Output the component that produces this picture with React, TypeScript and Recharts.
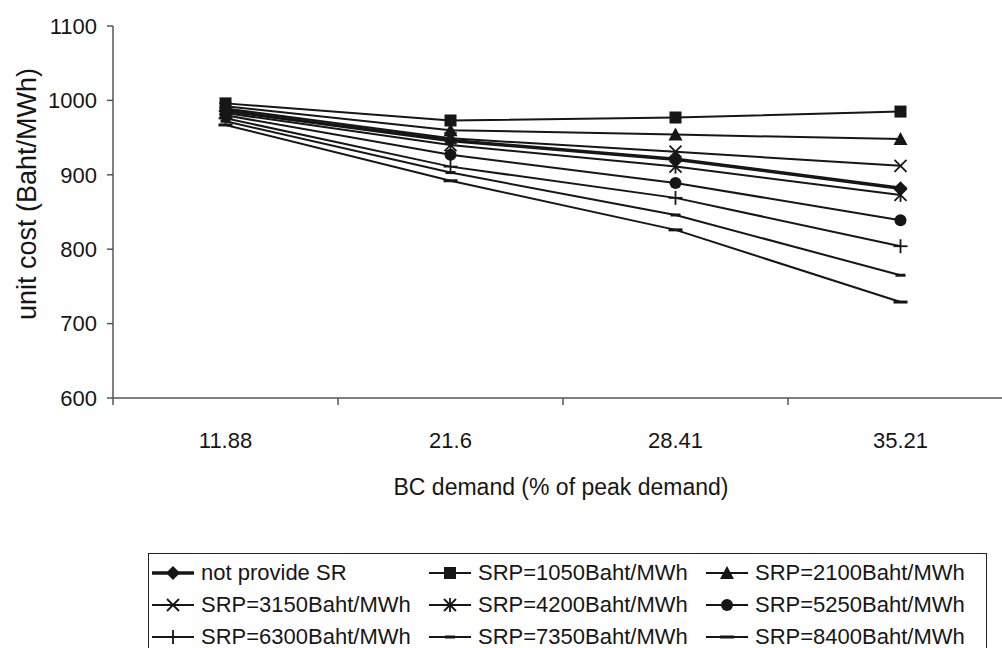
import React from 'react';
import { LineChart, Line, XAxis, YAxis, Label } from 'recharts';

const categories = ['11.88', '21.6', '28.41', '35.21'];
const xPositions = [0.5, 1.5, 2.5, 3.5];
const xTicks = [0, 0.5, 1, 1.5, 2, 2.5, 3, 3.5, 4];
const yTicks = [600, 700, 800, 900, 1000, 1100];

const notProvide = [986, 946, 921, 882];
const srp1050 = [996, 973, 977, 985];
const srp2100 = [992, 960, 954, 948];
const srp3150 = [989, 949, 931, 912];
const srp4200 = [983, 940, 911, 873];
const srp5250 = [980, 927, 889, 839];
const srp6300 = [976, 911, 869, 804];
const srp7350 = [972, 903, 846, 765];
const srp8400 = [967, 892, 826, 729];

const series = [
  { key: 'np', name: 'not provide SR', values: notProvide, shape: 'diamond', width: 3.5 },
  { key: 's1050', name: 'SRP=1050Baht/MWh', values: srp1050, shape: 'square', width: 2 },
  { key: 's2100', name: 'SRP=2100Baht/MWh', values: srp2100, shape: 'triangle', width: 2 },
  { key: 's3150', name: 'SRP=3150Baht/MWh', values: srp3150, shape: 'x', width: 2 },
  { key: 's4200', name: 'SRP=4200Baht/MWh', values: srp4200, shape: 'star', width: 2 },
  { key: 's5250', name: 'SRP=5250Baht/MWh', values: srp5250, shape: 'circle', width: 2 },
  { key: 's6300', name: 'SRP=6300Baht/MWh', values: srp6300, shape: 'plus', width: 2 },
  { key: 's7350', name: 'SRP=7350Baht/MWh', values: srp7350, shape: 'dash', width: 2 },
  { key: 's8400', name: 'SRP=8400Baht/MWh', values: srp8400, shape: 'longdash', width: 2 },
];

const data = xPositions.map((x, i) => {
  const row: any = { x };
  series.forEach((s) => { row[s.key] = s.values[i]; });
  return row;
});

const INK = '#161616';
const FONT = '"Liberation Sans", Arial, sans-serif';

const Marker = ({ shape, cx, cy }: { shape: string; cx: number; cy: number }) => {
  switch (shape) {
    case 'diamond':
      return <polygon points={`${cx},${cy - 7} ${cx + 7},${cy} ${cx},${cy + 7} ${cx - 7},${cy}`} fill={INK} />;
    case 'square':
      return <rect x={cx - 6} y={cy - 6} width={12} height={12} fill={INK} />;
    case 'triangle':
      return <polygon points={`${cx},${cy - 7} ${cx + 7},${cy + 6} ${cx - 7},${cy + 6}`} fill={INK} />;
    case 'x':
      return (
        <g stroke={INK} strokeWidth={1.8}>
          <line x1={cx - 6} y1={cy - 6} x2={cx + 6} y2={cy + 6} />
          <line x1={cx - 6} y1={cy + 6} x2={cx + 6} y2={cy - 6} />
        </g>
      );
    case 'star':
      return (
        <g stroke={INK} strokeWidth={1.8}>
          <line x1={cx - 6} y1={cy - 6} x2={cx + 6} y2={cy + 6} />
          <line x1={cx - 6} y1={cy + 6} x2={cx + 6} y2={cy - 6} />
          <line x1={cx} y1={cy - 7} x2={cx} y2={cy + 7} />
        </g>
      );
    case 'circle':
      return <circle cx={cx} cy={cy} r={6} fill={INK} />;
    case 'plus':
      return (
        <g stroke={INK} strokeWidth={1.8}>
          <line x1={cx - 7} y1={cy} x2={cx + 7} y2={cy} />
          <line x1={cx} y1={cy - 7} x2={cx} y2={cy + 7} />
        </g>
      );
    case 'dash':
      return <line x1={cx - 5} y1={cy} x2={cx + 5} y2={cy} stroke={INK} strokeWidth={3} />;
    case 'longdash':
      return <line x1={cx - 7} y1={cy} x2={cx + 7} y2={cy} stroke={INK} strokeWidth={3} />;
    default:
      return null;
  }
};

const makeDot = (shape: string) => (props: any) => {
  const { cx, cy, index } = props;
  if (cx == null || cy == null) return <g key={index} />;
  return <Marker key={index} shape={shape} cx={cx} cy={cy} />;
};

const XTick = (props: any) => {
  const { x, y, payload } = props;
  const v = payload.value;
  if (Number.isInteger(v)) {
    return <line x1={x} x2={x} y1={y} y2={y + 7} stroke="#555" strokeWidth={1.5} />;
  }
  const idx = xPositions.indexOf(v);
  return (
    <text x={x} y={y + 50} textAnchor="middle" fontSize={22} fill={INK} fontFamily={FONT}>
      {categories[idx]}
    </text>
  );
};

const LegendBox = () => (
  <div
    style={{
      position: 'absolute',
      left: 148,
      top: 553,
      border: '1.5px solid #222',
      width: 839,
      height: 110,
      boxSizing: 'border-box',
      paddingTop: 3,
      display: 'grid',
      gridTemplateColumns: '277px 277px 277px',
      gridAutoRows: '32px',
      fontFamily: FONT,
      fontSize: 22,
      lineHeight: '24px',
      color: INK,
    }}
  >
    {series.map((s) => (
      <div key={s.key} style={{ display: 'flex', alignItems: 'center', paddingLeft: 1 }}>
        <svg width={46} height={20} style={{ flex: 'none' }}>
          <line x1={2} y1={10} x2={44} y2={10} stroke={INK} strokeWidth={s.width} />
          <Marker shape={s.shape} cx={23} cy={10} />
        </svg>
        <span style={{ marginLeft: 5, whiteSpace: 'nowrap' }}>{s.name}</span>
      </div>
    ))}
  </div>
);

export default function App() {
  const ordered = [...series.slice(1), series[0]];
  return (
    <div style={{ position: 'absolute', left: 0, top: 0, width: 1002, height: 648, overflow: 'hidden', background: '#fff' }}>
      <LineChart
        width={1030}
        height={648}
        data={data}
        margin={{ top: 26, right: 17, bottom: 150, left: 0 }}
        style={{ fontFamily: FONT }}
      >
        <XAxis
          dataKey="x"
          type="number"
          domain={[0, 4]}
          ticks={xTicks}
          interval={0}
          tick={<XTick />}
          tickLine={false}
          tickSize={0}
          tickMargin={0}
          height={100}
          axisLine={{ stroke: '#555', strokeWidth: 1.5 }}
        >
          <Label
            content={(props: any) => {
              const vb = props.viewBox;
              return (
                <text x={vb.x + 448} y={vb.y + 97} textAnchor="middle" fontSize={23} fill={INK} fontFamily={FONT}>
                  BC demand (% of peak demand)
                </text>
              );
            }}
          />
        </XAxis>
        <YAxis
          type="number"
          domain={[600, 1100]}
          ticks={yTicks}
          interval={0}
          width={113}
          tickSize={6}
          tickMargin={10}
          tick={{ fontSize: 22, fill: INK, fontFamily: FONT }}
          tickLine={{ stroke: '#555', strokeWidth: 1.5 }}
          axisLine={{ stroke: '#555', strokeWidth: 1.5 }}
        >
          <Label
            content={(props: any) => {
              const vb = props.viewBox;
              const cx = 27;
              const cy = vb.y + 168;
              return (
                <text
                  x={cx}
                  y={cy}
                  transform={`rotate(-90 ${cx} ${cy})`}
                  textAnchor="middle"
                  dominantBaseline="central"
                  fontSize={27}
                  fill={INK}
                  fontFamily={FONT}
                >
                  unit cost (Baht/MWh)
                </text>
              );
            }}
          />
        </YAxis>
        {ordered.map((s) => (
          <Line
            key={s.key}
            dataKey={s.key}
            name={s.name}
            type="linear"
            stroke={INK}
            strokeWidth={s.width}
            dot={makeDot(s.shape)}
            activeDot={false}
            isAnimationActive={false}
          />
        ))}
      </LineChart>
      <LegendBox />
    </div>
  );
}
